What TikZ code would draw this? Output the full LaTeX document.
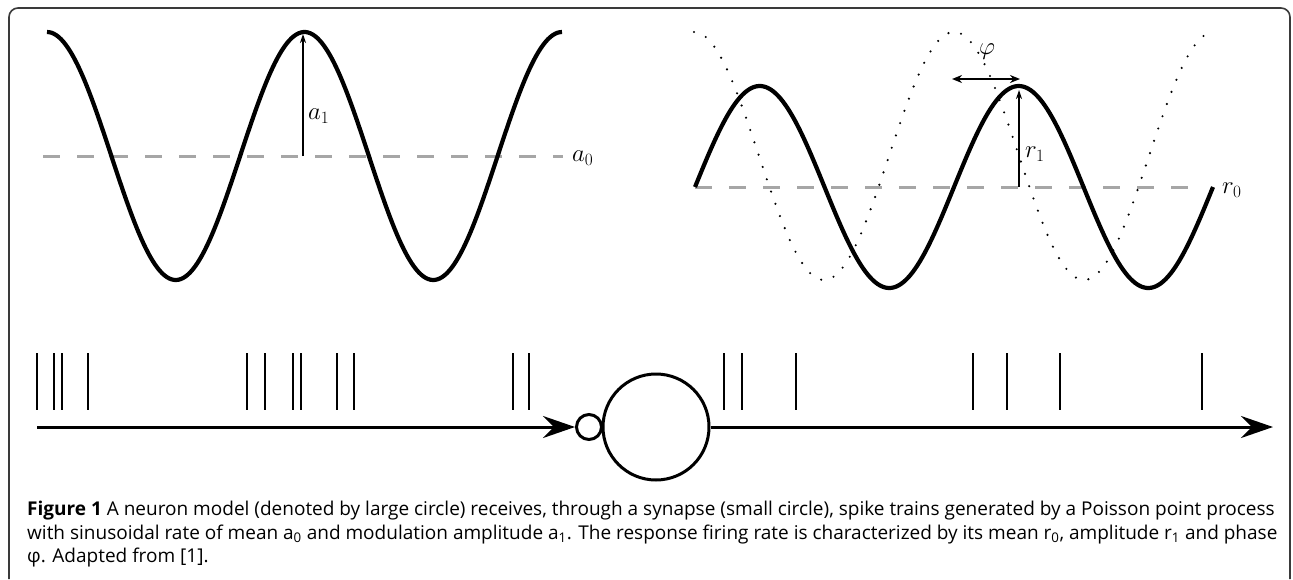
\documentclass[tikz,border=0pt]{standalone}
\usepackage{fontspec}
\setmainfont{Open Sans}
\usepackage{tikz}
\usetikzlibrary{arrows.meta,positioning,calc}
\definecolor{dashgray}{HTML}{A6A6A6}
\definecolor{framegray}{HTML}{3A3A3A}

\begin{document}
\begin{tikzpicture}[
  x=1pt,y=-1pt,
  every node/.style={inner sep=0pt},
  frame/.style={draw=framegray,line width=1.6pt,rounded corners=9pt},
  wave/.style={line width=4.2pt,line join=round},
  dotwave/.style={line width=2.4pt,line cap=round,dash pattern=on 0pt off 13pt},
  meanline/.style={draw=dashgray,line width=3pt,dash pattern=on 17pt off 17pt},
  ampl/.style={-{Stealth[length=9pt,width=6pt]},line width=1.5pt},
  phase/.style={{Stealth[length=10pt,width=8pt]}-{Stealth[length=10pt,width=8pt]},line width=2pt},
  lbl/.style={font=\fontsize{26}{26}\selectfont},
  spike/.style={line width=2.6pt},
  axis/.style={line width=3pt,-{Stealth[length=32pt,width=22pt,inset=11pt]}},
  cell/.style={circle,draw,line width=3pt,minimum size=#1}
]
\useasboundingbox (0,0) rectangle (1293,579);
% frame round the figure
\draw[frame] (9,579) -- (9,8) -- (1290,8) -- (1290,579);

% input rate
\draw[meanline] (43,156) -- (563,156);
\draw[wave] plot[domain=47:562,samples=220] (\x,{156-124*cos((\x-47)/257.5*360)});
\coordinate (a1base) at (303,156);
\coordinate (a1top) at (303,34);
\draw[ampl] (a1base) -- (a1top);
\node[lbl,anchor=west] (a1) at (308,116) {$a_1$};
\node[lbl,anchor=west] (a0) at (572,158) {$a_0$};

% response rate, with the input rate dotted
\draw[meanline] (695,187) -- (1195,187);
\draw[dotwave] plot[domain=694:1212,samples=300] (\x,{156-124*cos((\x-694)/260*360)});
\draw[wave] plot[domain=695:1213,samples=220] (\x,{187-101*sin((\x-695)/259*360)});
\coordinate (r1base) at (1019,187);
\coordinate (r1top) at (1019,90);
\draw[ampl] (r1base) -- (r1top);
\node[lbl,anchor=west] (r1) at (1025,154) {$r_1$};
\node[lbl,anchor=west] (r0) at (1222,190) {$r_0$};
\coordinate (phileft) at (952,79);
\coordinate (phiright) at (1020,79);
\draw[phase] (phileft) -- (phiright);
\node[lbl] (phi) at (987,52) {$\varphi$};

% spike trains
\foreach \s in {37,54,62,88,247,265,293,301,337,354,513,529,724,742,796,973,1007,1060,1202}
  \draw[spike] (\s,353) -- (\s,410);
\node[cell=25pt] (syn) at (589,427) {};
\node[cell=106pt] (neuron) at (656,427) {};
\coordinate (trainin) at (37,427);
\coordinate (trainout) at (1273,427);
\draw[axis] (trainin) -- (syn.west);
\draw[axis] (neuron.east) -- (trainout);

% caption
\node[anchor=north west,align=left,font=\fontsize{19}{23.5}\selectfont] (caption) at (27,501)
  {\textbf{Figure 1} A neuron model (denoted by large circle) receives, through a synapse (small circle), spike trains generated by a Poisson point process\\
   with sinusoidal rate of mean a\textsubscript{0} and modulation amplitude a\textsubscript{1}. The response firing rate is characterized by its mean r\textsubscript{0}, amplitude r\textsubscript{1} and phase\\
   φ. Adapted from [1].};
\end{tikzpicture}
\end{document}
